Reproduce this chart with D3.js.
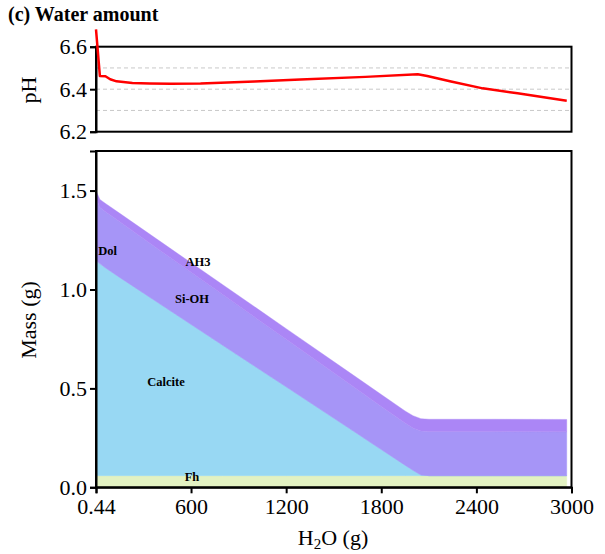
<!DOCTYPE html>
<html><head><meta charset="utf-8">
<script src="https://cdn.jsdelivr.net/npm/d3@7"></script>
<style>body{margin:0;background:#fff}svg{display:block}text{font-family:"Liberation Serif","Times New Roman",serif}</style>
</head><body>
<svg id="c" width="605" height="554"></svg>
<script>
// ---- data ----
const phWater = [0.44, 25, 60, 90, 130, 230, 340, 470, 660, 1000, 1290, 1700, 2030, 2090, 2240, 2440, 2660, 2970];
const phValues = [6.682, 6.462, 6.461, 6.447, 6.437, 6.429, 6.427, 6.426, 6.427, 6.436, 6.446, 6.458, 6.470, 6.462, 6.436, 6.404, 6.381, 6.346];

const water = [0.44, 25, 60, 150, 400, 800, 1200, 1600, 1800, 1950, 2000, 2050, 2100, 2500, 2970];
const fh      = [0.059,0.059,0.059,0.059,0.059,0.059,0.059,0.059,0.059,0.059,0.059,0.059,0.059,0.059,0.059];
const calcite = [1.081,1.068,1.049,1.002,0.870,0.659,0.449,0.238,0.132,0.053,0.027,0.003,0,0,0];
const dol     = [0.006,0.004,0.002,0,0,0,0,0,0,0,0,0,0,0,0];
const sioh    = [0.319,0.284,0.283,0.281,0.271,0.256,0.240,0.225,0.218,0.213,0.214,0.223,0.223,0.223,0.222];
const ah3     = [0.035,0.040,0.042,0.043,0.046,0.050,0.054,0.058,0.060,0.061,0.062,0.062,0.062,0.062,0.062];

const speciesNames = ["Fh", "Calcite", "Dol", "Si-OH", "AH3"];
const speciesColors = ["#e3f2c2", "#98d8f3", "#9cc0f4", "#a695f7", "#ab86f6"];
const labelNames = ["Dol", "AH3", "Si-OH", "Calcite", "Fh"];
const labelWater = [74, 644, 606, 442, 606];
const labelMass = [1.19, 1.134, 0.947, 0.528, 0.047];

const xTicks = [0.44, 600, 1200, 1800, 2400, 3000];
const phTicks = [6.2, 6.4, 6.6];
const phGrid = [6.3, 6.4, 6.5];
const massTicks = [0, 0.5, 1.0, 1.5];

// ---- drawing ----
const svg = d3.select("#c");
const L = 96, R = 571.5;
const FS = 22;
const x = d3.scaleLinear().domain([0.44, 3000]).range([L, R]);
const yPH = d3.scaleLinear().domain([6.2, 6.6]).range([131.7, 46.7]);
const yM = d3.scaleLinear().domain([0, 1.7]).range([487.3, 151]);

svg.append("text").attr("x", 8).attr("y", 21).attr("font-size", 20).attr("font-weight", "bold").text("(c) Water amount");

// top panel
const topG = svg.append("g");
topG.selectAll("line.grid").data(phGrid).enter().append("line")
  .attr("x1", L).attr("x2", R).attr("y1", d => yPH(d)).attr("y2", d => yPH(d))
  .attr("stroke", "#c8c8c8").attr("stroke-width", 1).attr("stroke-dasharray", "4,3");
topG.append("rect").attr("x", L).attr("y", yPH(6.6)).attr("width", R - L).attr("height", yPH(6.2) - yPH(6.6))
  .attr("fill", "none").attr("stroke", "#000").attr("stroke-width", 2);
const ayPH = topG.append("g").attr("transform", `translate(${L},0)`)
  .call(d3.axisLeft(yPH).tickValues(phTicks).tickFormat(d3.format(".1f")).tickSize(6).tickPadding(3));
ayPH.select(".domain").attr("stroke-width", 2);
ayPH.selectAll(".tick line").attr("stroke-width", 2);
ayPH.selectAll("text").attr("font-size", FS).attr("fill", "#000");
topG.append("path").datum(phWater.map((w, i) => [w, phValues[i]]))
  .attr("d", d3.line().x(d => x(d[0])).y(d => yPH(d[1])))
  .attr("fill", "none").attr("stroke", "#ff0000").attr("stroke-width", 2.5).attr("stroke-linejoin", "round");
svg.append("text").attr("transform", `translate(36,90) rotate(-90)`).attr("text-anchor", "middle")
  .attr("font-size", FS).text("pH");

// bottom panel
const rows = water.map((w, i) => ({w, "Fh": fh[i], "Calcite": calcite[i], "Dol": dol[i], "Si-OH": sioh[i], "AH3": ah3[i]}));
const stack = d3.stack().keys(speciesNames)(rows);
const area = d3.area().x(d => x(d.data.w)).y0(d => yM(d[0])).y1(d => yM(d[1]));
const bot = svg.append("g");
bot.selectAll("path.layer").data(stack).enter().append("path")
  .attr("d", area).attr("fill", (d, i) => speciesColors[i]).attr("stroke", (d, i) => speciesColors[i]).attr("stroke-width", 0.4);
bot.selectAll("text.lab").data(labelNames).enter().append("text")
  .attr("x", (d, i) => x(labelWater[i])).attr("y", (d, i) => yM(labelMass[i]))
  .attr("text-anchor", "middle").attr("dominant-baseline", "middle")
  .attr("font-size", 12.5).attr("font-weight", "bold").text(d => d);
bot.append("rect").attr("x", L).attr("y", yM(1.7)).attr("width", R - L).attr("height", yM(0) - yM(1.7))
  .attr("fill", "none").attr("stroke", "#000").attr("stroke-width", 2);
const ayM = bot.append("g").attr("transform", `translate(${L},0)`)
  .call(d3.axisLeft(yM).tickValues(massTicks).tickFormat(d3.format(".1f")).tickSize(6).tickPadding(3));
const axM = bot.append("g").attr("transform", `translate(0,${yM(0)})`)
  .call(d3.axisBottom(x).tickValues(xTicks).tickFormat(d => d === 0.44 ? "0.44" : d3.format("d")(d)).tickSize(6).tickPadding(5));
[ayM, axM].forEach(a => {
  a.select(".domain").attr("stroke-width", 2);
  a.selectAll(".tick line").attr("stroke-width", 2);
  a.selectAll("text").attr("font-size", FS).attr("fill", "#000");
});
svg.append("text").attr("transform", `translate(36,320) rotate(-90)`).attr("text-anchor", "middle")
  .attr("font-size", FS).text("Mass (g)");
const xl = svg.append("text").attr("x", 333).attr("y", 545).attr("text-anchor", "middle").attr("font-size", FS);
xl.append("tspan").text("H");
xl.append("tspan").attr("font-size", 15).attr("dy", 4).text("2");
xl.append("tspan").attr("dy", -4).text("O (g)");
</script>
</body></html>
